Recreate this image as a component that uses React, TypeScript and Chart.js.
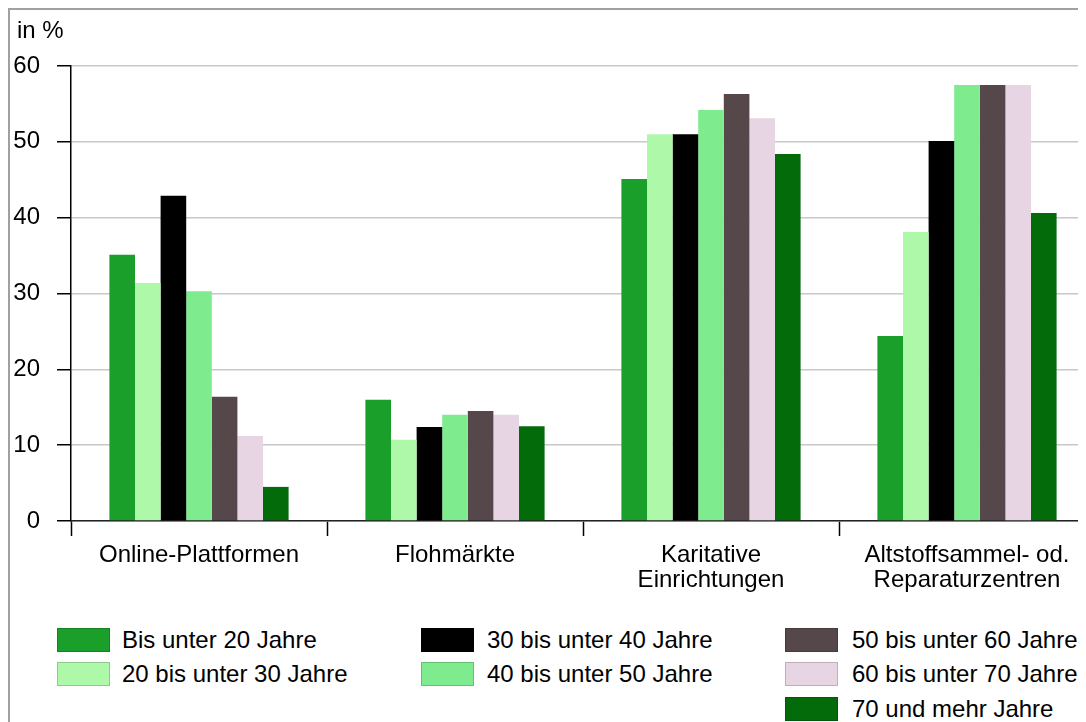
import React, { useEffect, useRef } from "react";
import { Chart, registerables } from "chart.js";

Chart.register(...registerables);

const categories: (string | string[])[] = [
  "Online-Plattformen",
  "Flohmärkte",
  ["Karitative", "Einrichtungen"],
  ["Altstoffsammel- od.", "Reparaturzentren"],
];

const seriesLabels = [
  "Bis unter 20 Jahre",
  "20 bis unter 30 Jahre",
  "30 bis unter 40 Jahre",
  "40 bis unter 50 Jahre",
  "50 bis unter 60 Jahre",
  "60 bis unter 70 Jahre",
  "70 und mehr Jahre",
];

const seriesColors = [
  "#1b9f2b",
  "#aef8a9",
  "#000000",
  "#7deb8e",
  "#56474a",
  "#e8d5e3",
  "#046b0b",
];

const under20 = [35.1, 16.0, 45.1, 24.4];
const age20to30 = [31.4, 10.7, 51.0, 38.1];
const age30to40 = [42.9, 12.4, 51.0, 50.1];
const age40to50 = [30.3, 14.0, 54.2, 57.5];
const age50to60 = [16.4, 14.5, 56.3, 57.5];
const age60to70 = [11.2, 14.0, 53.1, 57.5];
const age70plus = [4.5, 12.5, 48.4, 40.6];

const seriesValues = [under20, age20to30, age30to40, age40to50, age50to60, age60to70, age70plus];

const yTicks = [0, 10, 20, 30, 40, 50, 60];

const FONT = '"Liberation Sans", Arial, sans-serif';
const FS = 24;

// legend layout: column-major, 3 columns
const legendColumns = [[0, 1], [2, 3], [4, 5, 6]];

export default function App() {
  const ref = useRef<HTMLCanvasElement | null>(null);

  useEffect(() => {
    document.documentElement.style.overflow = "hidden";
    document.body.style.overflow = "hidden";
    const canvas = ref.current;
    if (!canvas) return;
    const chart = new Chart(canvas, {
      type: "bar",
      data: {
        labels: categories as any,
        datasets: seriesValues.map((vals, i) => ({
          label: seriesLabels[i],
          data: vals,
          backgroundColor: seriesColors[i],
          borderWidth: 0,
          categoryPercentage: 0.7,
          barPercentage: 1.0,
        })),
      },
      options: {
        animation: false,
        responsive: false,
        maintainAspectRatio: false,
        layout: { padding: { top: 56, right: 15, left: 0, bottom: 0 } },
        plugins: {
          legend: { display: false },
          tooltip: { enabled: false },
          title: { display: false },
        },
        scales: {
          x: {
            afterFit: (s: any) => {
              s.height = 89;
            },
            grid: {
              display: true,
              drawOnChartArea: false,
              drawTicks: true,
              tickLength: 15,
              tickColor: "#000",
              tickWidth: 1.5,
              color: "#000",
              offset: true,
            },
            border: { display: true, color: "#222", width: 1.5 },
            ticks: {
              color: "#000",
              font: { family: FONT, size: FS, lineHeight: 1.05 },
              padding: 7,
              maxRotation: 0,
              autoSkip: false,
            },
          },
          y: {
            min: 0,
            max: 60,
            afterFit: (s: any) => {
              s.width = 61;
            },
            afterBuildTicks: (s: any) => {
              s.ticks = yTicks.map((v) => ({ value: v }));
            },
            grid: {
              color: "#c8c8c8",
              lineWidth: 1.5,
              drawTicks: true,
              tickLength: 14,
              tickColor: "#000",
              tickWidth: 1.5,
            },
            border: { display: true, color: "#000", width: 1.5 },
            ticks: {
              color: "#000",
              font: { family: FONT, size: FS },
              padding: 17,
              stepSize: 10,
            },
          },
        },
      },
    });
    return () => chart.destroy();
  }, []);

  const rowTops = [618, 652, 687];
  const colBoxLeft = [47, 411, 775];
  const colTextLeft = [112, 477, 842];

  return (
    <div
      style={{
        position: "relative",
        width: 1078,
        height: 714,
        boxSizing: "border-box",
        borderLeft: "2px solid #a0a0a0",
        borderTop: "2px solid #a0a0a0",
        overflow: "hidden",
        background: "#fff",
        fontFamily: FONT,
      }}
    >
      <canvas
        ref={ref}
        width={1100}
        height={600}
        style={{ position: "absolute", left: 0, top: 0, width: 1100, height: 600 }}
      />
      <div
        style={{
          position: "absolute",
          left: 7,
          top: 6,
          fontSize: FS,
          lineHeight: "28px",
          color: "#000",
          whiteSpace: "nowrap",
        }}
      >
        in %
      </div>
      {legendColumns.map((col, ci) =>
        col.map((si, ri) => (
          <React.Fragment key={si}>
            <div
              style={{
                position: "absolute",
                left: colBoxLeft[ci],
                top: rowTops[ri],
                width: 53,
                height: 24,
                boxSizing: "border-box",
                background: seriesColors[si],
                border: "1px solid rgba(0,0,0,0.18)",
              }}
            />
            <div
              style={{
                position: "absolute",
                left: colTextLeft[ci],
                top: rowTops[ri] - 2,
                fontSize: FS,
                lineHeight: "28px",
                color: "#000",
                whiteSpace: "nowrap",
              }}
            >
              {seriesLabels[si]}
            </div>
          </React.Fragment>
        ))
      )}
    </div>
  );
}
